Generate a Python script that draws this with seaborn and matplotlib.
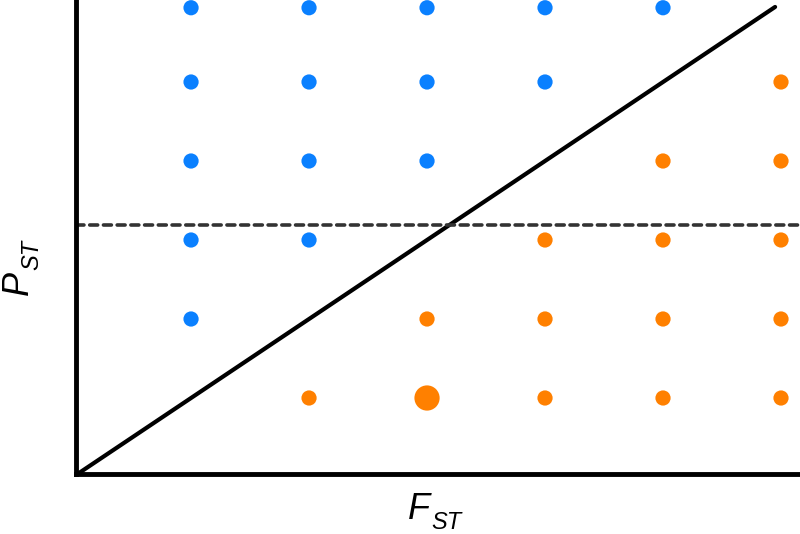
import matplotlib
matplotlib.use("Agg")
import matplotlib.pyplot as plt
import seaborn as sns
import pandas as pd

# grid positions (F_ST column index, P_ST row level)
blue_x = [1, 2, 3, 4, 5, 1, 2, 3, 4, 1, 2, 3, 1, 2, 1]
blue_y = [5.94, 5.94, 5.94, 5.94, 5.94, 5, 5, 5, 5, 4, 4, 4, 3, 3, 2]
orange_x = [6, 5, 6, 4, 5, 6, 3, 4, 5, 6, 2, 3, 4, 5, 6]
orange_y = [5, 4, 4, 3, 3, 3, 2, 2, 2, 2, 1, 1, 1, 1, 1]
orange_big = [0, 0, 0, 0, 0, 0, 0, 0, 0, 0, 0, 1, 0, 0, 0]
diag_x = [0, 5.95]
diag_y = [0, 5.95]
threshold_y = 3.19
xlim = (0.025, 6.161)
ylim = (0.038, 6.038)
x_main, x_sub = "F", "ST"
y_main, y_sub = "P", "ST"

df = pd.DataFrame({
    "x": blue_x + orange_x,
    "y": blue_y + orange_y,
    "grp": ["blue"] * len(blue_x) + ["orange"] * len(orange_x),
    "big": [0] * len(blue_x) + orange_big,
})

sns.set_theme(style="white")
plt.rcParams["font.family"] = ["Liberation Sans", "DejaVu Sans"]

W, H = 800, 534
fig = plt.figure(figsize=(W / 100, H / 100), dpi=100)
ax = fig.add_axes([76 / W, 60 / H, 724 / W, 474 / H])

ax.plot(diag_x, diag_y, color="black", lw=3.0, solid_capstyle="round", zorder=2)
ax.axhline(threshold_y, color="#333333", lw=2.6, ls=(0, (2.2, 1.6)),
           dash_capstyle="round", zorder=2)

sns.scatterplot(data=df, x="x", y="y", hue="grp", size="big",
                palette={"blue": "#0A80FF", "orange": "#FF8000"},
                sizes={0: 120, 1: 330}, linewidth=0, legend=False,
                ax=ax, zorder=3, clip_on=False)

ax.set_xlim(*xlim)
ax.set_ylim(*ylim)
ax.set_xticks([])
ax.set_yticks([])
for s in ["top", "right"]:
    ax.spines[s].set_visible(False)
for s in ["left", "bottom"]:
    ax.spines[s].set_color("black")
    ax.spines[s].set_linewidth(3.5)
ax.set_xlabel("")
ax.set_ylabel("")


def px(x, y):
    return x / W, 1 - y / H


main_kw = dict(fontsize=26, style="italic", color="black",
               ha="left", va="baseline", rotation_mode="anchor")
sub_kw = dict(main_kw, fontsize=17)

# x-axis label F_ST
fig.text(*px(408, 519), x_main, **main_kw)
fig.text(*px(431, 529), x_sub, **sub_kw)
# y-axis label P_ST (rotated)
fig.text(*px(28, 295), y_main, rotation=90, **main_kw)
fig.text(*px(38, 270), y_sub, rotation=90, **sub_kw)

fig.savefig("out.png", dpi=100)
